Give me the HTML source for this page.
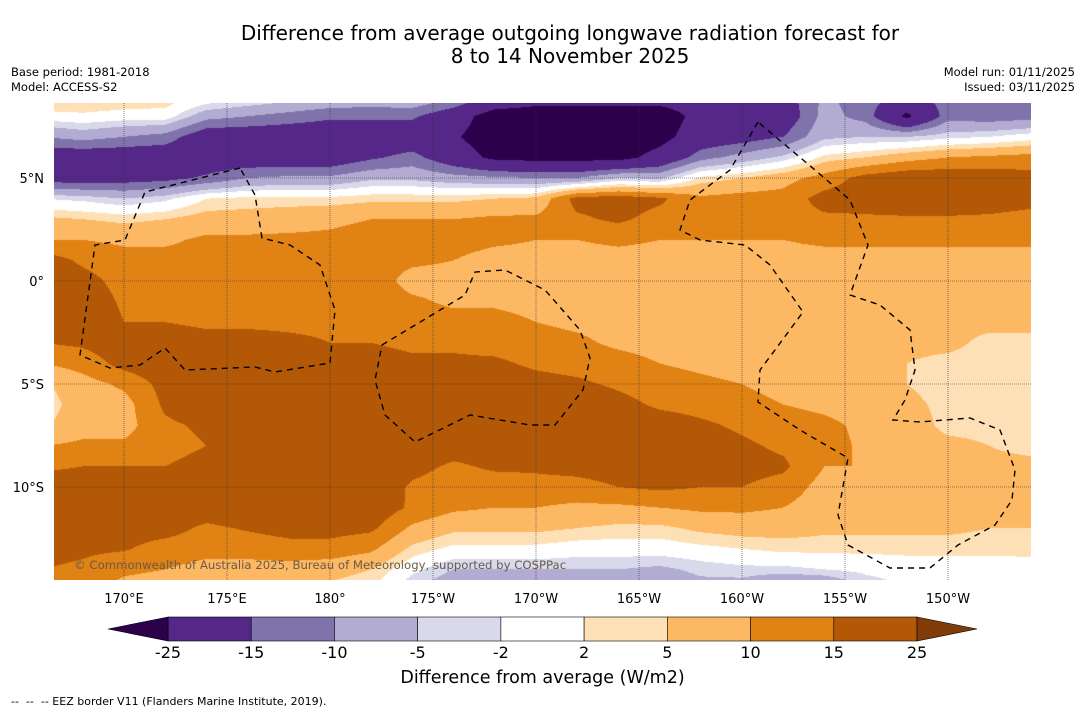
<!DOCTYPE html>
<html><head><meta charset="utf-8"><style>
body{margin:0;background:#fff;font-family:"DejaVu Sans","Liberation Sans",sans-serif;}
#wrap{position:relative;width:1085px;height:713px;overflow:hidden;}
.t{position:absolute;white-space:nowrap;color:#000;}
</style></head><body>
<div id="wrap">
<div class="t" style="left:0;width:1140px;top:22px;text-align:center;font-size:20px;line-height:23px;">Difference from average outgoing longwave radiation forecast for<br>8 to 14 November 2025</div>
<div class="t" style="left:11px;top:65px;font-size:11.5px;line-height:15px;">Base period: 1981-2018<br>Model: ACCESS-S2</div>
<div class="t" style="right:10px;top:65px;font-size:11.5px;line-height:15px;text-align:right;">Model run: 01/11/2025<br>Issued: 03/11/2025</div>
<canvas id="map" width="977" height="477" style="position:absolute;left:54px;top:103px;"></canvas>
<svg id="ov" width="1085" height="713" style="position:absolute;left:0;top:0;"></svg>
<div class="t" style="left:74px;top:558px;font-size:11.7px;color:#6a5a4a;">© Commonwealth of Australia 2025, Bureau of Meteorology, supported by COSPPac</div>
<div class="t" style="left:0;width:1085px;top:668px;text-align:center;font-size:17.5px;">Difference from average (W/m2)</div>
<div class="t" style="left:11px;top:695px;font-size:11px;">-- &nbsp;-- &nbsp;-- EEZ border V11 (Flanders Marine Institute, 2019).</div>
</div>
<script>
const levels=[-25,-15,-10,-5,-2,2,5,10,15,25];
const levelColors=['#2d004b','#542788','#8073ac','#b2abd2','#d8daeb','#ffffff','#fee0b6','#fdb863','#e08214','#b35806','#7f3b08'];
const lonTicks=[170,175,180,185,190,195,200,205,210];
const lonLabels=['170°E','175°E','180°','175°W','170°W','165°W','160°W','155°W','150°W'];
const latTicks=[5,0,-5,-10];
const latLabels=['5°N','0°','5°S','10°S'];
const gridLon0=166, gridLonStep=2, gridLat0=9, gridLatStep=-1;
const field=[
[8,7,6,5,2,0,-2,-4,-5,-4,-8,-15,-20,-20,-20,-20,-20,-20,-18,-9,-13,-15,-13,-13,-12],
[0,1,0,0,-8,-10,-12,-14,-14,-14,-20,-30,-30,-30,-30,-30,-22,-20,-20,-8,-12,-27,-12,-13,-12],
[-10,-8,-10,-12,-20,-20,-20,-20,-20,-20,-24,-30,-30,-30,-30,-28,-20,-18,-15,-6,-5,-5,-3,-2,0],
[-20,-20,-20,-20,-20,-20,-20,-20,-16,-13,-20,-27,-28,-28,-28,-22,-12,-8,-4,3,5,8,10,11,12],
[-18,-19,-18,-17,-14,-10,-9,-9,-6,-6,-8,-9,-10,-10,-5,-6,3,5,8,12,17,19,19,18,17],
[-2,-3,-5,-3,2,3,3,3,4,4,4,5,6,17,18,16,11,12,12,17,18,20,20,18,17],
[6,5,4,5,7,7,8,9,10,10,10,11,11,14,16,13,12,13,13,14,14,14,14,14,13],
[10,10,9,9,11,11,11,11,12,12,12,11,10,10,11,10,10,10,10,11,11,11,11,11,11],
[18,14,12,12,12,12,12,12,12,11,10,8,8,8,8,8,8,8,8,8,8,8,8,8,8],
[20,17,13,13,13,13,13,13,13,8,8,7,7,7,7,7,7,7,7,7,7,7,7,7,7],
[20,19,14,14,13,13,13,13,13,11,9,9,8,8,7,7,7,7,7,7,7,7,7,7,7],
[20,20,15,15,14,14,14,14,14,13,12,12,10,9,8,7,7,7,7,7,7,7,6,6,6],
[15,16,18,18,17,17,16,15,15,14,14,13,12,11,9,8,7,7,7,7,6,6,6,4,4],
[10,12,17,19,19,19,19,18,17,16,16,16,14,13,12,10,9,8,7,7,6,5,4,3.5,3.5],
[4,8,11,17,20,20,20,20,20,20,18,18,17,16,14,12,11,10,8,7,7,5,3.5,3.5,3.5],
[3,7,8,16,19,20,20,20,20,20,20,20,20,20,17,14,13,12,10,9,8,6,4,3.5,3.5],
[4,8,8,14,16,20,20,20,20,20,20,20,20,20,20,18,16,14,12,11,9,7,4,4,3.5],
[10,11,11,13,15,20,20,20,20,20,18,18,19,20,20,20,18,16,14,12,9,7,6,5,4],
[14,15,15,15,17,20,20,20,20,17,14,16,16,17,18,19,17,17,16,10,10,7,7,6,6],
[18,18,18,18,19,20,20,20,20,14,12,12,13,13,15,16,15,15,13,8,8,7,7,7,6.5],
[18,18,18,18,18,19,20,20,19,14,11,10,10,9,9,10,11,11,10,7,7,7,7,6.5,6],
[18,18,17,17,14,15.5,17,17,16,9,6,6,6,5,4,4,6,7,7,6,6,6,6,5,5],
[17,16,15.5,13,12,12,13,13,11,4,1,1,1,0,0,0,1,2,3,3,3,3,3,3,3],
[15,14,11,10,8,8,8,7,5,-1,-5,-5,-5,-5,-5,-6,-4,-3,-3,-2,-1,0,0,0,0.5],
[13,12,8,7,6,5,4,3.5,2,-5,-9,-9,-9,-9,-9,-9,-7,-8,-13,-12,-5,-2,-2,-1,-1]
];
// EEZ borders traced in screen pixels
const eezLeft=[[240,168],[145,192],[125,240],[95,245],[80,355],[110,368],[140,365],[165,348],[185,370],[255,367],[275,372],[330,363],[335,310],[320,265],[290,245],[262,238],[255,195],[240,168]];
const eezMid=[[382,345],[465,295],[475,272],[505,270],[545,290],[580,330],[590,358],[583,390],[555,425],[530,425],[470,415],[415,442],[385,415],[375,380],[382,345]];
const eezRight=[[758,122],[730,170],[690,200],[680,230],[700,240],[745,245],[770,265],[803,312],[775,350],[760,370],[758,402],[800,430],[848,458],[838,515],[848,545],[890,568],[930,568],[958,545],[995,525],[1012,500],[1015,470],[1000,430],[970,418],[920,422],[893,420],[905,400],[915,370],[910,330],[880,305],[850,295],[868,245],[850,200],[815,170],[758,122]];

function xOf(lon){return 124+(lon-170)*20.6;}
function yOf(lat){return 281-lat*20.6;}
function hex(c){return [parseInt(c.substr(1,2),16),parseInt(c.substr(3,2),16),parseInt(c.substr(5,2),16)];}
const rgbs=levelColors.map(hex);
function idxOf(v){let i=0;while(i<levels.length&&v>=levels[i])i++;return i;}
function sample(lon,lat){
  const nr=field.length,nc=field[0].length;
  let gx=(lon-gridLon0)/gridLonStep, gy=(lat-gridLat0)/gridLatStep;
  gx=Math.max(0,Math.min(nc-1.0001,gx)); gy=Math.max(0,Math.min(nr-1.0001,gy));
  const i=Math.floor(gx),j=Math.floor(gy),fx=gx-i,fy=gy-j;
  const a=field[j][i],b=field[j][i+1],c=field[j+1][i],d=field[j+1][i+1];
  return a*(1-fx)*(1-fy)+b*fx*(1-fy)+c*(1-fx)*fy+d*fx*fy;
}
const cv=document.getElementById('map'),ctx=cv.getContext('2d');
const img=ctx.createImageData(977,477);
for(let py=0;py<477;py++){for(let px=0;px<977;px++){
  const X=54+px+0.5,Y=103+py+0.5;
  const lon=170+(X-124)/20.6, lat=(281-Y)/20.6;
  const c=rgbs[idxOf(sample(lon,lat))];const k=(py*977+px)*4;
  img.data[k]=c[0];img.data[k+1]=c[1];img.data[k+2]=c[2];img.data[k+3]=255;}}
ctx.putImageData(img,0,0);

const NS='http://www.w3.org/2000/svg',svg=document.getElementById('ov');
function mk(tag,attrs,parent){const e=document.createElementNS(NS,tag);for(const k in attrs)e.setAttribute(k,attrs[k]);(parent||svg).appendChild(e);return e;}
const FF='DejaVu Sans, Liberation Sans, sans-serif';
lonTicks.forEach((lon,i)=>{
  const l=mk('line',{x1:xOf(lon),x2:xOf(lon),y1:103,y2:580,stroke:'#333','stroke-width':0.6,'stroke-dasharray':'1,1'});
  
  
  const t=mk('text',{x:xOf(lon),y:603,'text-anchor':'middle','font-size':13,'font-family':FF});
  t.textContent=lonLabels[i];
  
  
});
latTicks.forEach((lat,i)=>{
  const l=mk('line',{x1:54,x2:1031,y1:yOf(lat),y2:yOf(lat),stroke:'#333','stroke-width':0.6,'stroke-dasharray':'1,1'});
  
  
  const t=mk('text',{x:44,y:yOf(lat)+5,'text-anchor':'end','font-size':13,'font-family':FF});
  t.textContent=latLabels[i];
  
  
});
[eezLeft,eezMid,eezRight].forEach(pts=>{
  const p=mk('polyline',{points:pts.map(q=>q[0]+','+q[1]).join(' '),fill:'none',stroke:'#000','stroke-width':1.4,'stroke-dasharray':'6,5'});
  
  
});
const cbX0=168,cbX1=917,cbY=617,cbH=24,segW=(cbX1-cbX0)/(levels.length-1);
for(let i=0;i<levels.length-1;i++){
  const r=mk('rect',{x:cbX0+i*segW,y:cbY,width:segW,height:cbH,fill:levelColors[i+1],stroke:'#000','stroke-width':0.6});
  
  
}
const tl=mk('polygon',{points:`${cbX0},${cbY} 108,${cbY+cbH/2} ${cbX0},${cbY+cbH}`,fill:levelColors[0],stroke:'#000','stroke-width':0.6});


const tr=mk('polygon',{points:`${cbX1},${cbY} 977,${cbY+cbH/2} ${cbX1},${cbY+cbH}`,fill:levelColors[levels.length],stroke:'#000','stroke-width':0.6});


levels.forEach((v,i)=>{
  const t=mk('text',{x:cbX0+i*segW,y:658,'text-anchor':'middle','font-size':16,'font-family':FF});
  t.textContent=String(v);
  
  
});
</script>
</body></html>
